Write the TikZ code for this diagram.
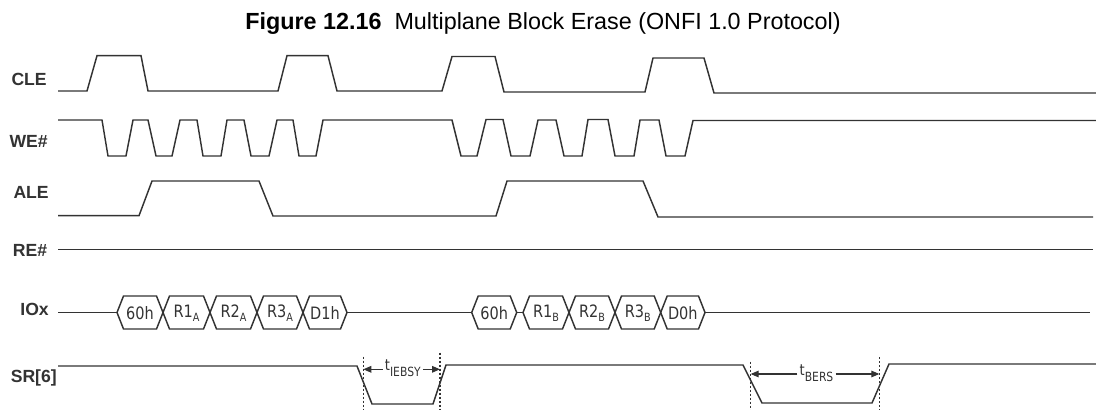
\documentclass[tikz,border=0pt]{standalone}
\usepackage{fontspec}
\setmainfont{Liberation Sans}
\newfontfamily\boxfont[FakeStretch=0.85]{DejaVu Sans}
\usetikzlibrary{arrows.meta}
\definecolor{ink}{HTML}{333333}
\newcommand\hexbox[4]{% name, left x, right x, text
  \draw[sig] (#2,312.5) -- (#2+6.5,296) -- (#3-6.5,296) -- (#3,312.5) -- (#3-6.5,329) -- (#2+6.5,329) -- cycle;
  \node[iotext] (#1) at ({(#2+#3)/2},313) {#4};}
\newcommand\sbA[1]{\raisebox{-3pt}{\fontsize{8.5}{8.5}\selectfont #1}}
\begin{document}
\begin{tikzpicture}[x=0.75pt,y=-0.75pt,
  sig/.style={draw=ink,line width=1.1pt},
  lab/.style={font=\bfseries\fontsize{13.2}{13.2}\selectfont,text=ink,anchor=base east,inner sep=0pt},
  iotext/.style={font=\boxfont\fontsize{12.8}{12.8}\selectfont,text=ink,inner sep=0pt},
  tlab/.style={font=\boxfont\fontsize{11.5}{11.5}\selectfont,text=ink,inner sep=1.5pt,anchor=base},
  guide/.style={draw=ink,line width=0.8pt,dash pattern=on 1.5pt off 1.5pt},
  arr/.style={draw=ink,line width=0.8pt,-{Triangle[length=6pt,width=5pt]}}]
\useasboundingbox (0,0) rectangle (1096,410);

% title
\node[anchor=base,inner sep=0pt,font=\fontsize{17.5}{17.5}\selectfont] (title) at (543,29.3)
  {\textbf{Figure 12.16}\ \ Multiplane Block Erase (ONFI 1.0 Protocol)};

% labels
\node[lab] (lcle) at (47,85) {CLE};
\node[lab] (lwe)  at (48,147) {WE\#};
\node[lab] (lale) at (49,198) {ALE};
\node[lab] (lre)  at (47.5,256.5) {RE\#};
\node[lab] (lio)  at (49,315) {IOx};
\node[lab] (lsr)  at (57,382.5) {SR[6]};

% CLE
\draw[sig] (58,91) -- (87,91) -- (97,55.7) -- (141,55.7) -- (148,91) -- (278,91) -- (287,55.7) -- (328,55.7) -- (337,91)
  -- (442,91) -- (452,56.5) -- (495,56.5) -- (504,92) -- (645,92) -- (653,58) -- (704,58) -- (714,93) -- (1096,93);

% WE#
\draw[sig] (58,120) -- (102,120) -- (108,156) -- (126,156) -- (133,120) -- (148,120) -- (156,156) -- (172,156) -- (180,120)
  -- (197,120) -- (203,156) -- (221,156) -- (227,120) -- (244,120) -- (251,156) -- (269,156) -- (277,120) -- (293,120)
  -- (299,156) -- (316,156) -- (323,120) -- (452,120) -- (461,156) -- (477,156) -- (486,119.5) -- (503,119.5) -- (511,156)
  -- (530,156) -- (538,120) -- (556,120) -- (564,156) -- (582,156) -- (588,119.5) -- (608,119.5) -- (615,156) -- (634,156)
  -- (640,120) -- (659,120) -- (666,156) -- (685,156) -- (693,120.5) -- (1096,120.5);

% ALE
\draw[sig] (58,215.7) -- (139,215.7) -- (152,181) -- (259,181) -- (273,216) -- (496,216) -- (507,181) -- (643,181) -- (658,217) -- (1093,217);

% RE#
\draw[sig] (58,249.3) -- (1093,249.3);

% IOx
\draw[sig] (58,312.5) -- (117,312.5);
\hexbox{a60}{117}{163}{60h}
\hexbox{ar1}{163}{210}{R1\sbA{A}}
\hexbox{ar2}{210}{257}{R2\sbA{A}}
\hexbox{ar3}{257}{303}{R3\sbA{A}}
\hexbox{ad1}{303}{347}{D1h}
\draw[sig] (347,312.5) -- (471.7,312.5);
\hexbox{b60}{471.7}{516.7}{60h}
\draw[sig] (516.7,312.5) -- (523,312.5);
\hexbox{br1}{523}{569}{R1\sbA{B}}
\hexbox{br2}{569}{615}{R2\sbA{B}}
\hexbox{br3}{615}{660.7}{R3\sbA{B}}
\hexbox{bd0}{660.7}{705}{D0h}
\draw[sig] (705,312.5) -- (1090,312.5);

% SR[6]
\draw[sig] (58,366) -- (357,366) -- (372,404) -- (433,404) -- (446,365) -- (743,365) -- (762,403) -- (872,403) -- (889,364) -- (1096,364);

% guides
\draw[guide] (363.3,356.7) -- (363.3,410);
\draw[guide] (440,352.7) -- (440,410);
\draw[guide] (750.7,361.7) -- (750.7,410);
\draw[guide] (879.3,357) -- (879.3,410);

% timing arrows
\coordinate (i1) at (363.3,369.3);
\coordinate (i2) at (440,369.3);
\node[tlab] (tieb) at (402.8,370) {t\raisebox{-4.5pt}{\fontsize{9.5}{9.5}\selectfont IEBSY}};
\draw[arr] (tieb.west |- i1) -- (i1);
\draw[arr] (tieb.east |- i2) -- (i2);

\coordinate (b1) at (750.7,374);
\coordinate (b2) at (879.3,374);
\node[tlab] (tbers) at (816.5,375.5) {t\raisebox{-4.5pt}{\fontsize{9.5}{9.5}\selectfont BERS}};
\draw[arr] (tbers.west |- b1) -- (b1);
\draw[arr] (tbers.east |- b2) -- (b2);
\end{tikzpicture}
\end{document}
